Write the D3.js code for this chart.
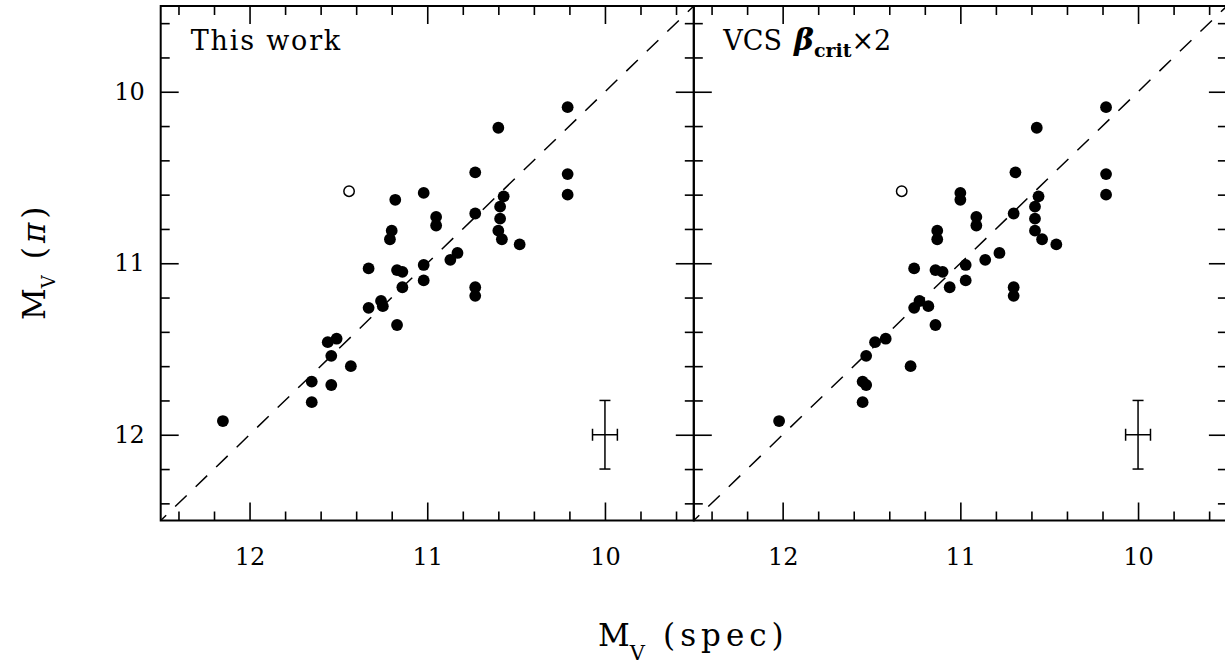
<!DOCTYPE html>
<html>
<head>
<meta charset="utf-8">
<script src="https://cdn.jsdelivr.net/npm/d3@7"></script>
<style>
  html, body { margin: 0; padding: 0; background: #fff; }
  svg { display: block; }
</style>
</head>
<body>
<div id="chart"></div>
<script>
// ---------- DATA ----------
// M_V (pi) values, shared by both panels
const mvPi = [11.92, 11.81, 11.69, 11.71, 11.60, 11.54, 11.46, 11.44, 11.26, 11.22,
              11.25, 11.36, 11.14, 11.04, 11.05, 11.03, 11.01, 11.10, 10.98, 10.94,
              10.81, 10.86, 10.63, 10.59, 10.73, 10.78, 10.71, 11.14, 11.19, 10.09,
              10.21, 10.47, 10.48, 10.60, 10.61, 10.67, 10.74, 10.81, 10.86, 10.89];
// M_V (spec), "This work"
const mvSpecThisWork = [12.15, 11.65, 11.65, 11.54, 11.43, 11.54, 11.56, 11.51, 11.33, 11.26,
                        11.25, 11.17, 11.14, 11.17, 11.14, 11.33, 11.02, 11.02, 10.87, 10.83,
                        11.20, 11.21, 11.18, 11.02, 10.95, 10.95, 10.73, 10.73, 10.73, 10.21,
                        10.60, 10.73, 10.21, 10.21, 10.57, 10.59, 10.59, 10.60, 10.58, 10.48];
// M_V (spec), "VCS beta_crit x 2"
const mvSpecVCS = [12.02, 11.55, 11.55, 11.53, 11.28, 11.53, 11.48, 11.42, 11.26, 11.23,
                   11.18, 11.14, 11.06, 11.14, 11.10, 11.26, 10.97, 10.97, 10.86, 10.78,
                   11.13, 11.13, 11.00, 11.00, 10.91, 10.91, 10.70, 10.70, 10.70, 10.18,
                   10.57, 10.69, 10.18, 10.18, 10.56, 10.58, 10.58, 10.58, 10.54, 10.46];
// open-circle point (spec, pi) per panel
const openThisWork = [11.44, 10.58];
const openVCS = [11.33, 10.58];
// representative error bar: centre and half-widths
const errCentre = [10, 12];
const errHalf = [0.07, 0.2];
// axis domains & ticks
const xDomain = [12.5, 9.5];
const yDomain = [9.5, 12.5];
const majorTicks = [10, 11, 12];
const minorTicks = [9.6, 9.8, 10.2, 10.4, 10.6, 10.8, 11.2, 11.4, 11.6, 11.8, 12.2, 12.4];
const panelLabels = ["This work", "VCS"];
const xTitle = "(spec)";
const yTitle = "(\u03C0)";

// ---------- LAYOUT ----------
const WIDTH = 1225, HEIGHT = 664;
const panelW = 533.1, panelH = 514.5;
const topY = 6;
const lefts = [160.7, 693.8];
const FONT = "'DejaVu Serif', 'Liberation Serif', serif";

const svg = d3.select("#chart").append("svg")
  .attr("width", WIDTH).attr("height", HEIGHT)
  .style("background", "#fff");

const x = d3.scaleLinear().domain(xDomain).range([0, panelW]);
const y = d3.scaleLinear().domain(yDomain).range([0, panelH]);

function styleAxis(g) {
  g.select(".domain").remove();
  g.selectAll(".tick line").attr("stroke", "#000").attr("stroke-width", 1.6);
  g.selectAll(".tick text").attr("fill", "#000")
    .style("font-family", FONT).style("font-size", "24px");
}

function drawPanel(i, xs, openPt, showYLabels) {
  const g = svg.append("g").attr("transform", `translate(${lefts[i]},${topY})`);

  // bottom axis
  g.append("g").attr("transform", `translate(0,${panelH})`)
    .call(d3.axisBottom(x).tickValues(majorTicks).tickSize(-18).tickPadding(27).tickFormat(d3.format("d")))
    .call(styleAxis);
  g.append("g").attr("transform", `translate(0,${panelH})`)
    .call(d3.axisBottom(x).tickValues(minorTicks).tickSize(-9).tickFormat(""))
    .call(styleAxis);
  // top axis
  g.append("g")
    .call(d3.axisTop(x).tickValues(majorTicks).tickSize(-18).tickFormat(""))
    .call(styleAxis);
  g.append("g")
    .call(d3.axisTop(x).tickValues(minorTicks).tickSize(-9).tickFormat(""))
    .call(styleAxis);
  // left axis
  g.append("g")
    .call(d3.axisLeft(y).tickValues(majorTicks).tickSize(-18).tickPadding(16)
      .tickFormat(showYLabels ? d3.format("d") : ""))
    .call(styleAxis);
  g.append("g")
    .call(d3.axisLeft(y).tickValues(minorTicks).tickSize(-9).tickFormat(""))
    .call(styleAxis);
  // right axis
  g.append("g").attr("transform", `translate(${panelW},0)`)
    .call(d3.axisRight(y).tickValues(majorTicks).tickSize(-18).tickFormat(""))
    .call(styleAxis);
  g.append("g").attr("transform", `translate(${panelW},0)`)
    .call(d3.axisRight(y).tickValues(minorTicks).tickSize(-9).tickFormat(""))
    .call(styleAxis);

  // frame
  g.append("rect").attr("x", 0).attr("y", 0).attr("width", panelW).attr("height", panelH)
    .attr("fill", "none").attr("stroke", "#000").attr("stroke-width", 2);

  // 1:1 dashed line
  g.append("line")
    .attr("x1", x(xDomain[0])).attr("y1", y(yDomain[1]))
    .attr("x2", x(xDomain[1])).attr("y2", y(yDomain[0]))
    .attr("stroke", "#000").attr("stroke-width", 1.5)
    .attr("stroke-dasharray", "16,12.5").attr("stroke-dashoffset", 8.4);

  // filled points
  const pts = xs.map((v, k) => [v, mvPi[k]]);
  g.append("g").selectAll("circle").data(pts).join("circle")
    .attr("cx", d => x(d[0])).attr("cy", d => y(d[1])).attr("r", 5.9)
    .attr("fill", "#000");

  // open point
  g.append("circle").attr("cx", x(openPt[0])).attr("cy", y(openPt[1])).attr("r", 5.2)
    .attr("fill", "#fff").attr("stroke", "#000").attr("stroke-width", 1.5);

  // error bar
  const eg = g.append("g").attr("stroke", "#000").attr("stroke-width", 1.5);
  const cx = x(errCentre[0]), cy = y(errCentre[1]);
  const yT = y(errCentre[1] - errHalf[1]), yB = y(errCentre[1] + errHalf[1]);
  const xL = x(errCentre[0] + errHalf[0]), xR = x(errCentre[0] - errHalf[0]);
  eg.append("line").attr("x1", cx).attr("x2", cx).attr("y1", yT).attr("y2", yB);
  eg.append("line").attr("x1", cx - 5.5).attr("x2", cx + 5.5).attr("y1", yT).attr("y2", yT);
  eg.append("line").attr("x1", cx - 5.5).attr("x2", cx + 5.5).attr("y1", yB).attr("y2", yB);
  eg.append("line").attr("x1", xL).attr("x2", xR).attr("y1", cy).attr("y2", cy);
  eg.append("line").attr("x1", xL).attr("x2", xL).attr("y1", cy - 6).attr("y2", cy + 6);
  eg.append("line").attr("x1", xR).attr("x2", xR).attr("y1", cy - 6).attr("y2", cy + 6);

  return g;
}

const g0 = drawPanel(0, mvSpecThisWork, openThisWork, true);
const g1 = drawPanel(1, mvSpecVCS, openVCS, false);

// panel labels
g0.append("text").attr("x", 30).attr("y", 44)
  .style("font-family", FONT).style("font-size", "27px").style("letter-spacing", "1.8px")
  .text(panelLabels[0]);

const t1 = g1.append("text").attr("x", 29.5).attr("y", 44)
  .style("font-family", FONT).style("font-size", "27px");
t1.append("tspan").text(panelLabels[1]);
t1.append("tspan").attr("dx", 12).style("font-style", "italic").style("font-weight", "bold")
  .style("font-size", "30px").text("\u03B2");
t1.append("tspan").attr("dy", 7).style("font-weight", "bold").style("font-size", "19px").text("crit");
t1.append("tspan").attr("dy", -7).text("\u00D72");

// x-axis title
const xt = svg.append("text").attr("x", 693.4).attr("y", 646)
  .attr("text-anchor", "middle")
  .style("font-family", FONT).style("font-size", "31px");
xt.append("tspan").text("M");
xt.append("tspan").attr("dy", 14).style("font-size", "21px").text("V");
xt.append("tspan").attr("dy", -14).attr("dx", 18).style("letter-spacing", "5px").text(xTitle);

// y-axis title
const yt = svg.append("text")
  .attr("transform", `translate(45,${topY + panelH / 2}) rotate(-90)`)
  .attr("text-anchor", "middle")
  .style("font-family", FONT).style("font-size", "31px");
yt.append("tspan").text("M");
yt.append("tspan").attr("dy", 10).style("font-size", "18px").text("V");
yt.append("tspan").attr("dy", -10).attr("dx", 16).style("letter-spacing", "4px").text("(");
yt.append("tspan").style("font-style", "italic").style("letter-spacing", "4px").text("\u03C0");
yt.append("tspan").text(")");
</script>
</body>
</html>
